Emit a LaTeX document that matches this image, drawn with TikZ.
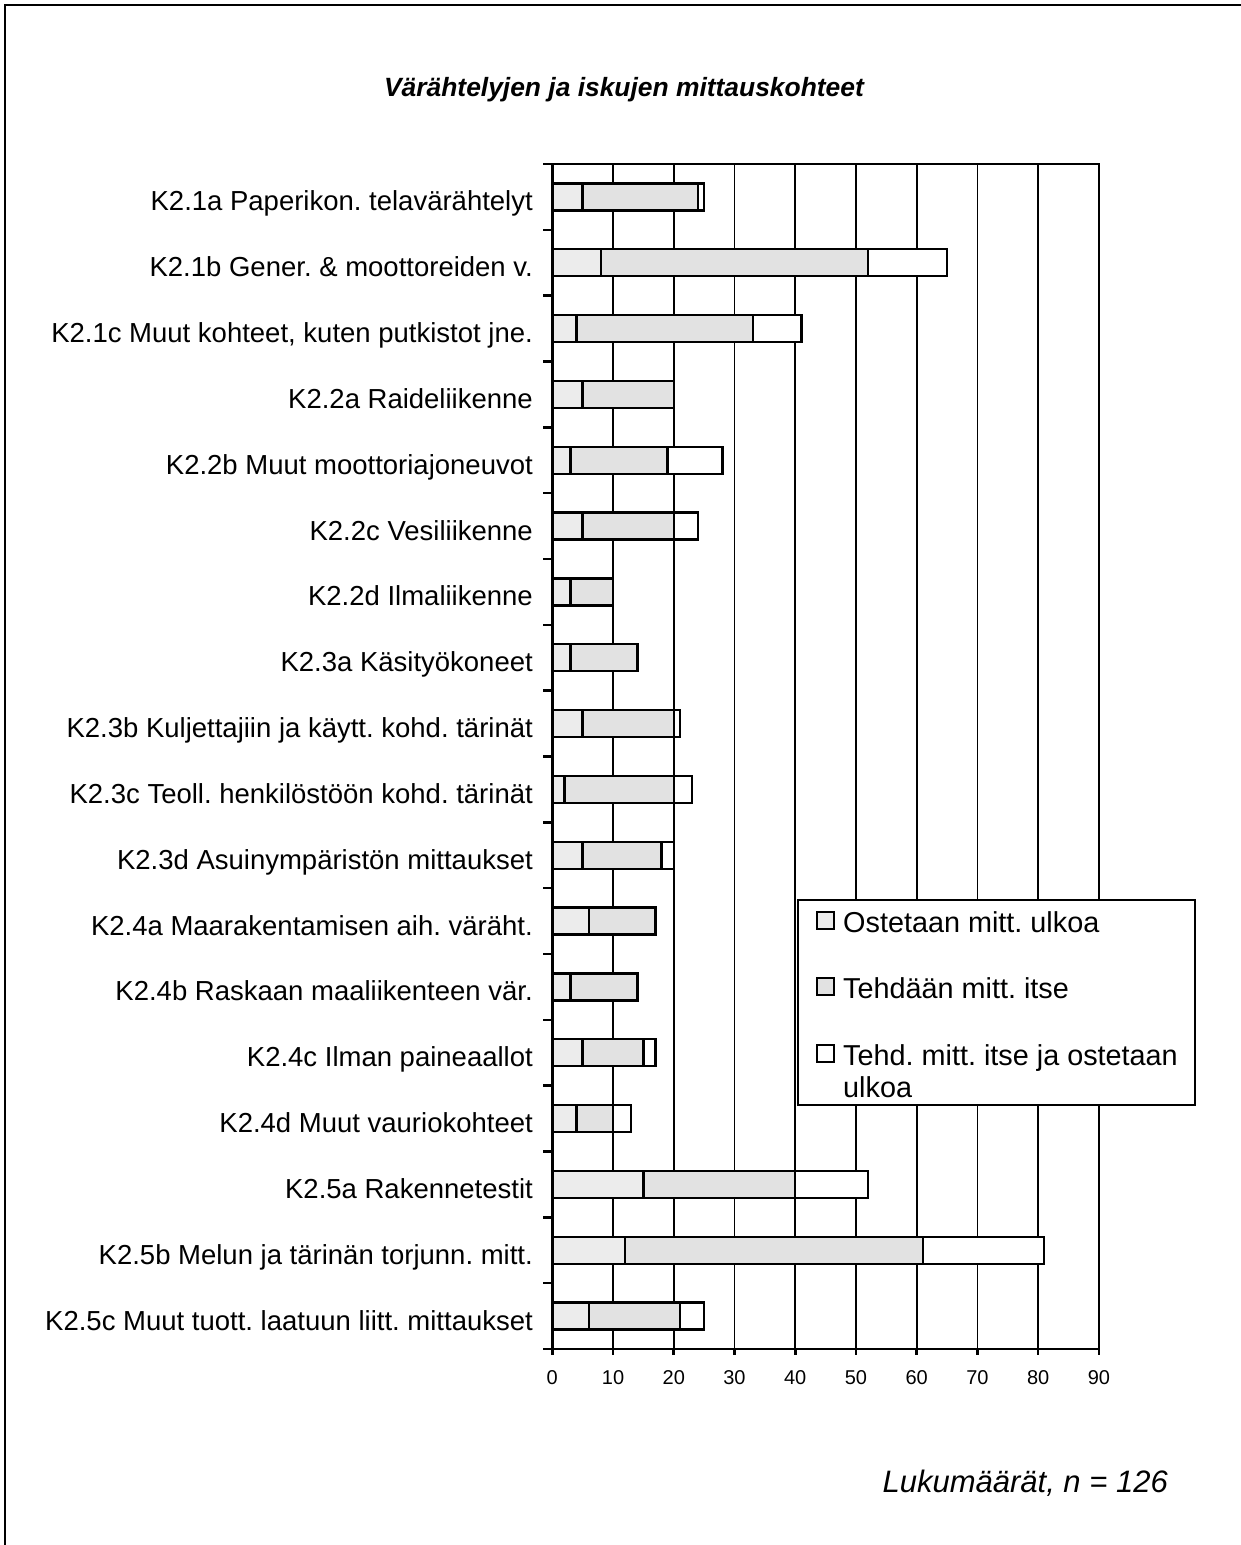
\documentclass[tikz,border=0pt]{standalone}
\usepackage{fontspec}
\setmainfont{Liberation Sans}
\definecolor{lightc}{HTML}{ECECEC}
\definecolor{midc}{HTML}{E2E2E2}
\begin{document}
\frenchspacing
\begin{tikzpicture}[x=1pt,y=-1pt,
  gridline/.style={line width=1.8pt},
  barbox/.style={line width=2.4pt, draw=black},
  axisline/.style={line width=2.6pt},
  catlabel/.style={anchor=base east, inner sep=0pt, font=\fontsize{27.5}{32}\selectfont},
  ticklabel/.style={anchor=base, inner sep=0pt, font=\fontsize{20}{24}\selectfont},
  legtext/.style={anchor=base west, inner sep=0pt, font=\fontsize{28.8}{32}\selectfont, align=left},
  legsq/.style={draw, line width=1.5pt, minimum size=17pt, inner sep=0pt, anchor=north west}]
\useasboundingbox (0,0) rectangle (1241,1545);
\draw[line width=2.2pt] (5,1545) -- (5,5) -- (1241,5);
\node[inner sep=0pt, font=\fontsize{26.4}{30}\selectfont\bfseries\itshape] (title) at (624,90) {Värähtelyjen ja iskujen mittauskohteet};
% grid
\foreach \k in {1,...,9} { \draw[gridline] (552.3+60.73*\k,164) -- (552.3+60.73*\k,1349); }
% bars and labels
\foreach \lab/\a/\b/\c [count=\i] in {
  {K2.1a Paperikon. telavärähtelyt}/5/24/25,
  {K2.1b Gener. \& moottoreiden v.\ }/8/52/65,
  {K2.1c Muut kohteet, kuten putkistot jne.}/4/33/41,
  {K2.2a Raideliikenne\ }/5/20/20,
  {K2.2b Muut moottoriajoneuvot}/3/19/28,
  {K2.2c Vesiliikenne}/5/20/24,
  {K2.2d Ilmaliikenne\ }/3/10/10,
  {K2.3a Käsityökoneet}/3/14/14,
  {K2.3b Kuljettajiin ja käytt. kohd. tärinät}/5/20/21,
  {K2.3c Teoll. henkilöstöön kohd. tärinät}/2/20/23,
  {K2.3d Asuinympäristön mittaukset}/5/18/20,
  {K2.4a Maarakentamisen aih. väräht.}/6/17/17,
  {K2.4b Raskaan maaliikenteen vär.}/3/14/14,
  {K2.4c Ilman paineaallot}/5/15/17,
  {K2.4d Muut vauriokohteet}/4/10/13,
  {K2.5a Rakennetestit}/15/40/52,
  {K2.5b Melun ja tärinän torjunn. mitt.}/12/61/81,
  {K2.5c Muut tuott. laatuun liitt. mittaukset}/6/21/25} {
  \pgfmathsetmacro\yc{164+65.83*(\i-0.5)}
  \draw[barbox, fill=white] (552.3,\yc-13.5) rectangle (552.3+6.073*\c,\yc+13.5);
  \draw[barbox, fill=midc] (552.3,\yc-13.5) rectangle (552.3+6.073*\b,\yc+13.5);
  \draw[barbox, fill=lightc] (552.3,\yc-13.5) rectangle (552.3+6.073*\a,\yc+13.5);
  \node[catlabel] (lab\i) at (533,\yc+14) {\lab};
}
% axes
\draw[axisline] (543,164) -- (1099.5,164);
\draw[axisline] (543,1349) -- (1099.5,1349);
\draw[axisline] (552.3,164) -- (552.3,1355);
\foreach \k in {0,...,18} { \draw[axisline] (543,164+65.83*\k) -- (552.3,164+65.83*\k); }
\foreach \k in {0,...,9} {
  \draw[axisline] (552.3+60.73*\k,1349) -- ++(0,6);
  \pgfmathtruncatemacro\v{10*\k}
  \node[ticklabel] (t\k) at (552.3+60.73*\k,1384) {\v};
}
% legend
\node[draw, line width=2pt, fill=white, minimum width=397pt, minimum height=205pt, anchor=north west, inner sep=0pt] (legend) at (797,899) {};
\node[legsq, fill=lightc] (sq1) at (816,911) {};
\node[legsq, fill=midc] (sq2) at (816,977) {};
\node[legsq, fill=white] (sq3) at (816,1044) {};
\node[legtext] (lt1) at (843,932) {Ostetaan mitt. ulkoa};
\node[legtext] (lt2) at (843,998) {Tehdään mitt. itse};
\node[legtext] (lt3) at (843,1065) {Tehd. mitt. itse ja ostetaan};
\node[legtext] (lt4) at (843,1097) {ulkoa};
% footnote
\node[anchor=base east, inner sep=0pt, font=\fontsize{31}{36}\selectfont\itshape] (count) at (1168,1492) {Lukumäärät, n = 126};
\end{tikzpicture}
\end{document}
